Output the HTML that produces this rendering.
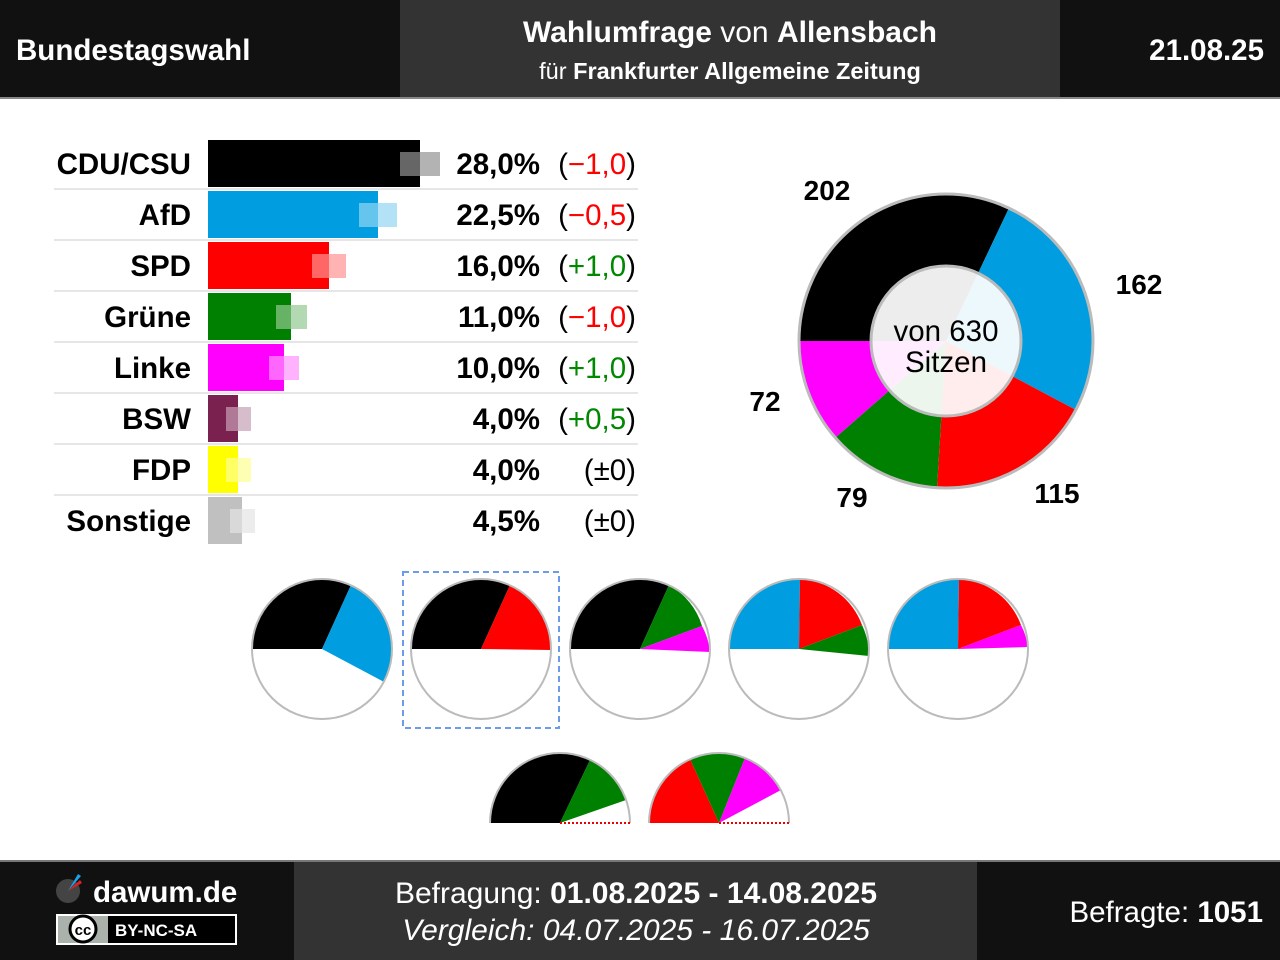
<!DOCTYPE html>
<html><head><meta charset="utf-8"><style>
html,body{margin:0;padding:0;background:#fff;}
svg{display:block;font-family:"Liberation Sans",Arial,sans-serif;}
</style></head><body>
<svg width="1280" height="960" viewBox="0 0 1280 960">
<!-- header -->
<rect x="0" y="0" width="1280" height="98" fill="#111"/>
<rect x="400" y="0" width="660" height="98" fill="#333"/>
<rect x="0" y="97" width="1280" height="2" fill="#888"/>
<text x="16" y="60" fill="#fff" font-size="29.5" font-weight="bold">Bundestagswahl</text>
<text x="1264" y="60" fill="#fff" font-size="29.5" font-weight="bold" text-anchor="end">21.08.25</text>
<text x="730" y="42" fill="#fff" font-size="30" text-anchor="middle"><tspan font-weight="bold">Wahlumfrage</tspan> von <tspan font-weight="bold">Allensbach</tspan></text>
<text x="730" y="79" fill="#fff" font-size="23.5" text-anchor="middle">für <tspan font-weight="bold">Frankfurter Allgemeine Zeitung</tspan></text>

<!-- row separators -->
<g fill="#e6e6e6">
<rect x="54" y="188" width="584" height="2"/><rect x="54" y="239" width="584" height="2"/>
<rect x="54" y="290" width="584" height="2"/><rect x="54" y="341" width="584" height="2"/>
<rect x="54" y="392" width="584" height="2"/><rect x="54" y="443" width="584" height="2"/>
<rect x="54" y="494" width="584" height="2"/>
</g>
<!-- bars -->
<g>
<rect x="208" y="140" width="212" height="47" fill="#000"/>
<rect x="400" y="152" width="20" height="24" fill="#666"/><rect x="420" y="152" width="20" height="24" fill="#b3b3b3"/>
<rect x="208" y="191" width="170" height="47" fill="#009ee0"/>
<rect x="359" y="203" width="19" height="24" fill="#66c5ec"/><rect x="378" y="203" width="19" height="24" fill="#b3e2f6"/>
<rect x="208" y="242" width="121" height="47" fill="#f00"/>
<rect x="312" y="254" width="17" height="24" fill="#ff6666"/><rect x="329" y="254" width="17" height="24" fill="#ffb3b3"/>
<rect x="208" y="293" width="83" height="47" fill="#008000"/>
<rect x="276" y="305" width="15" height="24" fill="#66b366"/><rect x="291" y="305" width="16" height="24" fill="#b3d9b3"/>
<rect x="208" y="344" width="76" height="47" fill="#f0f"/>
<rect x="269" y="356" width="15" height="24" fill="#ff66ff"/><rect x="284" y="356" width="15" height="24" fill="#ffb3ff"/>
<rect x="208" y="395" width="30" height="47" fill="#7b2150"/>
<rect x="226" y="407" width="12" height="24" fill="#b07a96"/><rect x="238" y="407" width="13" height="24" fill="#d7bccb"/>
<rect x="208" y="446" width="30" height="47" fill="#ff0"/>
<rect x="226" y="458" width="12" height="24" fill="#ffff66"/><rect x="238" y="458" width="13" height="24" fill="#ffffb3"/>
<rect x="208" y="497" width="34" height="47" fill="#c0c0c0"/>
<rect x="230" y="509" width="12" height="24" fill="#d9d9d9"/><rect x="242" y="509" width="13" height="24" fill="#ececec"/>
</g>
<g font-size="29.5" fill="#000">
<g font-weight="bold" text-anchor="end">
<text x="191" y="174">CDU/CSU</text><text x="191" y="225">AfD</text><text x="191" y="276">SPD</text>
<text x="191" y="327">Grüne</text><text x="191" y="378">Linke</text><text x="191" y="429">BSW</text>
<text x="191" y="480">FDP</text><text x="191" y="531">Sonstige</text>
<text x="540" y="174">28,0%</text><text x="540" y="225">22,5%</text><text x="540" y="276">16,0%</text>
<text x="540" y="327">11,0%</text><text x="540" y="378">10,0%</text><text x="540" y="429">4,0%</text>
<text x="540" y="480">4,0%</text><text x="540" y="531">4,5%</text>
</g>
<g text-anchor="end">
<text x="636" y="174">(<tspan fill="#f00">−1,0</tspan>)</text>
<text x="636" y="225">(<tspan fill="#f00">−0,5</tspan>)</text>
<text x="636" y="276">(<tspan fill="#080">+1,0</tspan>)</text>
<text x="636" y="327">(<tspan fill="#f00">−1,0</tspan>)</text>
<text x="636" y="378">(<tspan fill="#080">+1,0</tspan>)</text>
<text x="636" y="429">(<tspan fill="#080">+0,5</tspan>)</text>
<text x="636" y="480">(±0)</text>
<text x="636" y="531">(±0)</text>
</g>
</g>

<!-- donut -->
<g id="donut">
<path d="M946,341 L799,341 A147,147 0 0 1 1009,208 Z" fill="#000"/>
<path d="M946,341 L1009,208 A147,147 0 0 1 1076,410 Z" fill="#009ee0"/>
<path d="M946,341 L1076,410 A147,147 0 0 1 937,488 Z" fill="#f00"/>
<path d="M946,341 L937,488 A147,147 0 0 1 835,438 Z" fill="#008000"/>
<path d="M946,341 L835,438 A147,147 0 0 1 799,341 Z" fill="#f0f"/>
<circle cx="946" cy="341" r="147" fill="none" stroke="#bbb" stroke-width="3"/>
<circle cx="946" cy="341" r="75" fill="rgba(255,255,255,0.93)" stroke="#bbb" stroke-width="3"/>
<text x="946" y="341" font-size="29.5" text-anchor="middle">von 630</text>
<text x="946" y="372" font-size="29.5" text-anchor="middle">Sitzen</text>
</g>
<g font-size="28" font-weight="bold" text-anchor="middle">
<text x="827" y="200">202</text><text x="1139" y="294">162</text><text x="1057" y="503">115</text>
<text x="852" y="507">79</text><text x="765" y="411">72</text>
</g>

<!-- small pies -->
<g stroke="none">
<circle cx="322" cy="649" r="70" fill="#fff"/>
<path d="M322,649 L252,649 A70,70 0 0 1 351,585 Z" fill="#000"/>
<path d="M322,649 L351,585 A70,70 0 0 1 384,682 Z" fill="#009ee0"/>
<circle cx="322" cy="649" r="70" fill="none" stroke="#bbb" stroke-width="2"/>
<circle cx="481" cy="649" r="70" fill="#fff"/>
<path d="M481,649 L411,649 A70,70 0 0 1 510,585 Z" fill="#000"/>
<path d="M481,649 L510,585 A70,70 0 0 1 551,650 Z" fill="#f00"/>
<circle cx="481" cy="649" r="70" fill="none" stroke="#bbb" stroke-width="2"/>
<rect x="403" y="572" width="156" height="156" fill="none" stroke="#6c9be8" stroke-width="2" stroke-dasharray="6,4"/>
<circle cx="640" cy="649" r="70" fill="#fff"/>
<path d="M640,649 L570,649 A70,70 0 0 1 669,585 Z" fill="#000"/>
<path d="M640,649 L669,585 A70,70 0 0 1 702,626 Z" fill="#008000"/>
<path d="M640,649 L702,626 A70,70 0 0 1 710,652 Z" fill="#f0f"/>
<circle cx="640" cy="649" r="70" fill="none" stroke="#bbb" stroke-width="2"/>
<circle cx="799" cy="649" r="70" fill="#fff"/>
<path d="M799,649 L729,649 A70,70 0 0 1 800,579 Z" fill="#009ee0"/>
<path d="M799,649 L800,579 A70,70 0 0 1 862,625 Z" fill="#f00"/>
<path d="M799,649 L862,625 A70,70 0 0 1 869,656 Z" fill="#008000"/>
<circle cx="799" cy="649" r="70" fill="none" stroke="#bbb" stroke-width="2"/>
<circle cx="958" cy="649" r="70" fill="#fff"/>
<path d="M958,649 L888,649 A70,70 0 0 1 959,579 Z" fill="#009ee0"/>
<path d="M958,649 L959,579 A70,70 0 0 1 1021,625 Z" fill="#f00"/>
<path d="M958,649 L1021,625 A70,70 0 0 1 1028,647 Z" fill="#f0f"/>
<circle cx="958" cy="649" r="70" fill="none" stroke="#bbb" stroke-width="2"/>
<path d="M490,823 A70,70 0 0 1 630,823 Z" fill="#fff"/>
<path d="M560,823 L490,823 A70,70 0 0 1 590,760 Z" fill="#000"/>
<path d="M560,823 L590,760 A70,70 0 0 1 626,800 Z" fill="#008000"/>
<path d="M490,823 A70,70 0 0 1 630,823" fill="none" stroke="#bbb" stroke-width="2"/>
<line x1="560" y1="823" x2="630" y2="823" stroke="#e00" stroke-width="2" stroke-dasharray="2,2"/>
<path d="M649,823 A70,70 0 0 1 789,823 Z" fill="#fff"/>
<path d="M719,823 L649,823 A70,70 0 0 1 690,759 Z" fill="#f00"/>
<path d="M719,823 L690,759 A70,70 0 0 1 745,758 Z" fill="#008000"/>
<path d="M719,823 L745,758 A70,70 0 0 1 781,790 Z" fill="#f0f"/>
<path d="M649,823 A70,70 0 0 1 789,823" fill="none" stroke="#bbb" stroke-width="2"/>
<line x1="719" y1="823" x2="789" y2="823" stroke="#e00" stroke-width="2" stroke-dasharray="2,2"/>
</g>

<!-- footer -->
<rect x="0" y="860" width="1280" height="100" fill="#111"/>
<rect x="0" y="860" width="1280" height="2" fill="#777"/>
<rect x="294" y="862" width="683" height="98" fill="#333"/>
<circle cx="68" cy="891" r="12" fill="#444"/>
<path d="M68,891 L78,874 L81,876 Z" fill="#1ea0e6"/>
<path d="M68,891 L80,880 L82,883 Z" fill="#e02020"/>
<text x="93" y="902" fill="#fff" font-size="29.5" font-weight="bold">dawum.de</text>
<rect x="57" y="915" width="179" height="29" fill="#000" stroke="#fff" stroke-width="2"/>
<rect x="58" y="916" width="50" height="27" fill="#aab2ab"/>
<circle cx="83" cy="929" r="13" fill="#fff" stroke="#000" stroke-width="3"/>
<text x="83" y="935" font-size="15" font-weight="bold" text-anchor="middle">cc</text>
<text x="115" y="936" fill="#fff" font-size="17" font-weight="bold">BY-NC-SA</text>
<text x="636" y="903" fill="#fff" font-size="30" text-anchor="middle">Befragung: <tspan font-weight="bold">01.08.2025 - 14.08.2025</tspan></text>
<text x="636" y="940" fill="#fff" font-size="30" font-style="italic" text-anchor="middle">Vergleich: 04.07.2025 - 16.07.2025</text>
<text x="1263" y="922" fill="#fff" font-size="29.5" text-anchor="end">Befragte: <tspan font-weight="bold">1051</tspan></text>
</svg>
</body></html>
